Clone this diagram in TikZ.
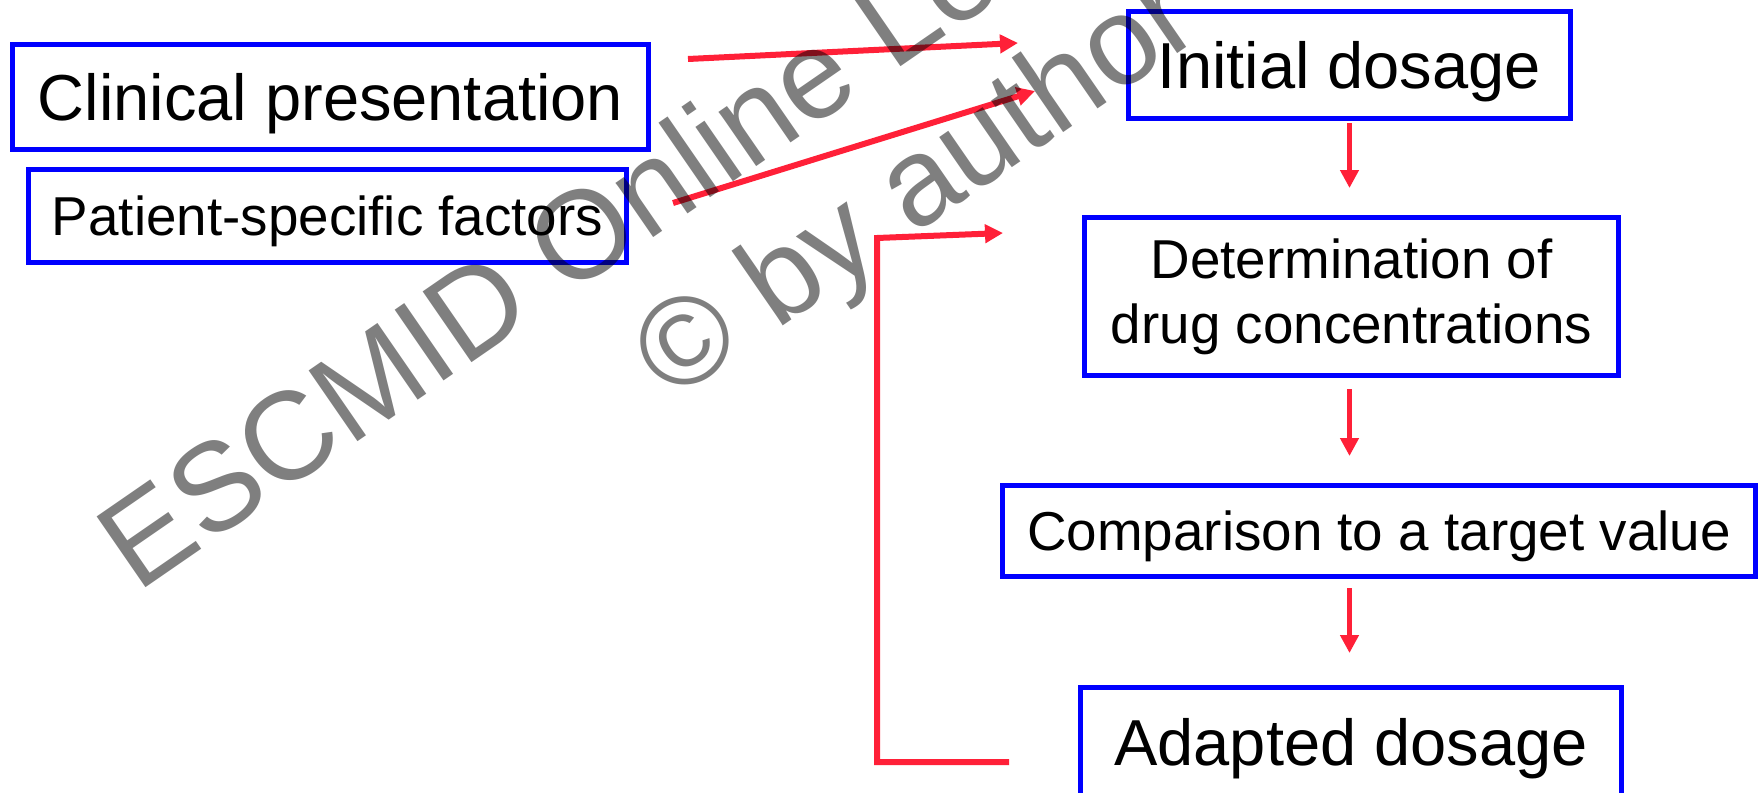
\documentclass[tikz,border=0pt]{standalone}
\usepackage{fontspec}
\setmainfont{Liberation Sans}
\usepackage{tikz}
\usetikzlibrary{shapes,arrows.meta,positioning}
\definecolor{boxblue}{RGB}{0,0,255}
\definecolor{arrowred}{RGB}{255,32,56}
\tikzstyle{bigbox} = [draw=boxblue, line width=2.7pt, inner sep=0pt, font=\fontsize{32.5}{39}\selectfont, text height=23.4pt, text depth=0pt]
\tikzstyle{smallbox} = [draw=boxblue, line width=2.7pt, inner sep=0pt, align=center, font=\fontsize{27.4}{32.5}\selectfont]
\tikzstyle{sline} = [smallbox, text height=19.8pt, text depth=0pt]
\tikzstyle{line} = [draw=arrowred, line width=3pt, -{Triangle[length=9pt,width=9pt]}]
\tikzstyle{dline} = [draw=arrowred, line width=2.2pt, -{Triangle[length=9pt,width=9pt]}]
\tikzstyle{wmark} = [rotate=34.6, anchor=base, inner sep=0pt, text=black, text opacity=0.5, font=\fontsize{62.5}{73.5}\selectfont]

\begin{document}
\begin{tikzpicture}[x=0.5pt, y=-0.5pt]
				\useasboundingbox (0,0) rectangle (1758,793);
				\clip (0,0) rectangle (1758,793);

				\node [bigbox, minimum width=317.8pt, minimum height=52.3pt] (clin) at (330.5, 97) {Clinical presentation};
				\node [sline, minimum width=298.8pt, minimum height=46.3pt] (pat) at (327.5, 216) {Patient-specific factors};
				\node [bigbox, minimum width=220.8pt, minimum height=53.3pt] (init) at (1349.5, 65) {Initial dosage};
				\node [smallbox, minimum width=266.8pt, minimum height=78.8pt] (det) at (1351.5, 296.5) {Determination of\\drug concentrations};
				\node [sline, minimum width=376.3pt, minimum height=45.3pt] (comp) at (1379, 531) {Comparison to a target value};
				\node [bigbox, minimum width=270.3pt, minimum height=54.3pt] (adapt) at (1351, 742) {Adapted dosage};

				\coordinate (cp-tail) at (688, 59);
				\coordinate (cp-head) at (1018, 43);
				\coordinate (pf-tail) at (673, 203);
				\coordinate (pf-head) at (1035, 91);
				\coordinate (ad-tail) at (1009, 762);
				\coordinate (fb-corner) at (877, 238);
				\coordinate (fb-head) at (1003, 233);

				\path [line] (cp-tail) -- (cp-head);
				\path [line] (pf-tail) -- (pf-head);
				\path [line] (ad-tail) -| (fb-corner) -- (fb-head);
				\path [dline, shorten <=1pt, shorten >=13.5pt] (init.south) -- (init.south |- det.north);
				\path [dline, shorten <=5.5pt, shorten >=13.5pt] (init.south |- det.south) -- (init.south |- comp.north);
				\path [dline, shorten <=4.5pt, shorten >=16pt] (init.south |- comp.south) -- (init.south |- adapt.north);

				% watermark
				\node [wmark] (wm1) at (858, 96) {ESCMID Online Lecture Library};
				\node [wmark] (wm2) at (938.5, 218.5) {© by author};
			\end{tikzpicture}
\end{document}
